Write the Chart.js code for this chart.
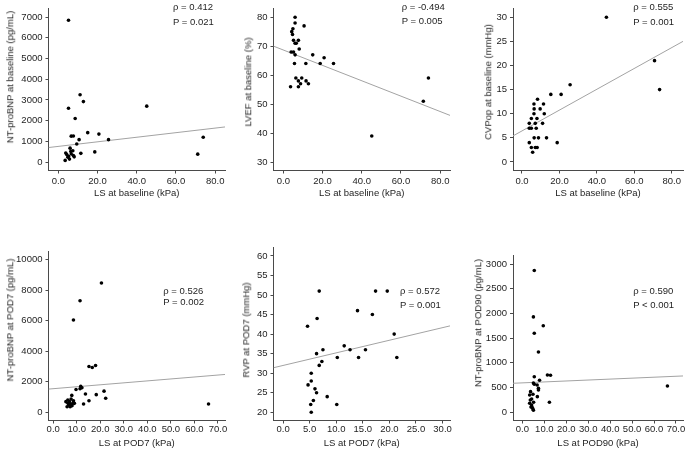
<!DOCTYPE html>
<html>
<head>
<meta charset="utf-8">
<script src="https://cdn.jsdelivr.net/npm/chart.js@4.4.1/dist/chart.umd.min.js"></script>
<style>
html,body{margin:0;padding:0;background:#fff;}
#wrap{position:relative;width:686px;height:453px;overflow:hidden;background:#fff;font-family:"Liberation Sans",Arial,sans-serif;color:#1e1e1e;}
#wrap canvas{position:absolute;}
.yt{position:absolute;white-space:nowrap;font-size:9.5px;line-height:1;transform:translate(-50%,-50%) rotate(-90deg);}
.ann{position:absolute;white-space:nowrap;font-size:9.5px;line-height:1;transform:translateY(-50%);}
</style>
</head>
<body>
<div id="wrap"></div>
<script>
// ---------- DATA ----------
// Panel 1: LS at baseline vs NT-proBNP at baseline
const p1LS = [5.2,11.1,12.8,5.2,45.1,8.6,15.0,6.6,7.7,20.7,10.6,25.6,9.4,73.9,71.1,18.6,11.5,3.8,4.3,5.2,6.0,6.4,6.6,7.4,7.7,8.1,5.7,3.5,4.9];
const p1NTproBNP = [6850,3250,2920,2600,2700,2100,1420,1250,1260,1350,1080,1080,870,1200,380,490,420,435,358,280,669,513,389,544,311,249,140,78,233];
const p1FitX = [-5, 85];
const p1FitY = [700, 1695];

// Panel 2: LS at baseline vs LVEF at baseline
const p2LS = [6.0,6.0,10.6,4.9,4.3,4.7,5.2,7.7,6.6,6.0,8.1,4.0,5.2,6.0,15.0,20.8,5.7,11.5,18.8,25.6,6.4,9.4,74.0,7.7,11.6,8.8,12.8,3.7,7.7,71.4,45.1];
const p2LVEF = [80,78,77,76,75,74,72,72,71,71,69,68,68,67,67,66,64,64,64,64,59,59,59,58,58,57,57,56,56,51,39];
const p2FitX = [-5, 85];
const p2FitY = [70.0, 46.1];

// Panel 3: LS at baseline vs CVPop at baseline
const p3LS = [45.1,70.8,73.5,25.7,15.4,20.9,8.3,6.4,11.5,6.5,9.7,6.4,11.9,3.9,7.1,11.0,5.0,8.0,3.9,5.0,7.6,6.5,8.8,13.1,18.8,3.9,5.0,7.1,8.1,5.7];
const p3CVP = [30,21,15,16,14,14,13,12,12,11,11,10,10,8,8,8,9,9,7,7,7,5,5,5,4,4,3,3,3,2];
const p3FitX = [-4.8, 86];
const p3FitY = [5.4, 25.0];

// Panel 4: LS at POD7 vs NT-proBNP at POD7
const p4LS = [20.5,11.4,8.6,15.2,16.6,18.0,11.7,11.4,12.2,9.7,21.6,13.7,18.3,7.9,22.3,15.2,12.9,66.0,6.2,6.9,7.6,8.3,9.0,6.6,7.2,5.4,5.9,8.0,6.3,8.6,7.4];
const p4NTproBNP = [8480,7320,6060,3010,2940,3070,1700,1550,1610,1500,1390,1200,1160,1110,920,760,550,550,810,700,870,590,590,480,370,700,370,440,590,760,520];
const p4FitX = [-2, 73];
const p4FitY = [1525, 2484];

// Panel 5: LS at POD7 vs RVP at POD7
const p5LS = [6.8,17.4,19.6,14.0,16.8,6.4,4.6,20.9,11.5,12.6,15.5,7.5,6.3,10.2,14.2,21.4,7.3,6.8,5.3,5.3,4.7,6.0,6.3,8.3,5.7,5.2,10.1,5.3];
const p5RVP = [51,51,51,46,45,44,42,40,37,36,36,36,35,34,34,34,33,32,30,28,27,26,25,24,23,22,22,20];
const p5FitX = [-1.8, 31.4];
const p5FitY = [31.4, 42.1];

// Panel 6: LS at POD90 vs NT-proBNP at POD90
const p6LS = [5.4,5.0,9.5,5.4,7.3,11.4,12.8,5.4,7.8,5.0,5.4,6.7,7.3,7.3,3.7,3.3,4.8,6.8,12.3,5.1,3.6,4.2,3.9,4.5,4.8,5.0,4.2,3.3,66.1];
const p6NTproBNP = [2870,1930,1750,1600,1220,755,748,720,647,593,566,553,485,452,418,350,364,317,202,202,250,148,108,94,67,40,270,182,533];
const p6FitX = [-4.3, 73.2];
const p6FitY = [587, 735];

// Tick labels
const xTicksBaseline = [0,20,40,60,80];
const xTicksPOD7 = [0,10,20,30,40,50,60,70];
const xTicksRVP = [0,5,10,15,20,25,30];
const xTicksPOD90 = [0,10,20,30,40,50,60,70];
const p1YTicks = [0,1000,2000,3000,4000,5000,6000,7000];
const p2YTicks = [30,40,50,60,70,80];
const p3YTicks = [0,5,10,15,20,25,30];
const p4YTicks = [0,2000,4000,6000,8000,10000];
const p5YTicks = [20,25,30,35,40,45,50,55,60];
const p6YTicks = [0,500,1000,1500,2000,2500,3000];

// Texts
const xTitles = ['LS at baseline (kPa)','LS at baseline (kPa)','LS at baseline (kPa)','LS at POD7 (kPa)','LS at POD7 (kPa)','LS at POD90 (kPa)'];
const yTitles = ['NT-proBNP at baseline (pg/mL)','LVEF at baseline (%)','CVPop at baseline (mmHg)','NT-proBNP at POD7 (pg/mL)','RVP at POD7 (mmHg)','NT-proBNP at POD90 (pg/mL)'];
const rhoTexts = ['ρ = 0.412','ρ = -0.494','ρ = 0.555','ρ = 0.526','ρ = 0.572','ρ = 0.590'];
const pTexts = ['P = 0.021','P = 0.005','P = 0.001','P = 0.002','P = 0.001','P < 0.001'];

// ---------- LAYOUT ----------
const panels = [
  {x:p1LS, y:p1NTproBNP, fx:p1FitX, fy:p1FitY, xt:xTicksBaseline, yt:p1YTicks,
   g:{l:48.5,r:225,t:3,b:170.5,xMin:-5,xMax:85,yMin:-410,yMax:7410,tp:2.5,ytc:[10.3,76.7],ann:[173,7,22.3]}},
  {x:p2LS, y:p2LVEF, fx:p2FitX, fy:p2FitY, xt:xTicksBaseline, yt:p2YTicks,
   g:{l:273.5,r:450,t:3,b:170.5,xMin:-5,xMax:85,yMin:27.07,yMax:82.93,tp:2.5,ytc:[248.3,81.7],ann:[401.7,6.7,21]}},
  {x:p3LS, y:p3CVP, fx:p3FitX, fy:p3FitY, xt:xTicksBaseline, yt:p3YTicks,
   g:{l:513,r:683,t:3.5,b:170.5,xMin:-4.8,xMax:86,yMin:-1.77,yMax:31.77,tp:2.5,ytc:[488,81.7],ann:[633.3,7,22.3]}},
  {x:p4LS, y:p4NTproBNP, fx:p4FitX, fy:p4FitY, xt:xTicksPOD7, yt:p4YTicks,
   g:{l:48.5,r:225,t:251,b:420.5,xMin:-2,xMax:73,yMin:-535,yMax:10535,tp:0,ytc:[10,320],ann:[163.3,290.7,302.3]}},
  {x:p5LS, y:p5RVP, fx:p5FitX, fy:p5FitY, xt:xTicksRVP, yt:p5YTicks,
   g:{l:273.5,r:450,t:247.5,b:420.5,xMin:-1.8,xMax:31.4,yMin:17.9,yMax:62.1,tp:0,ytc:[246,330],ann:[400,291,305]}},
  {x:p6LS, y:p6NTproBNP, fx:p6FitX, fy:p6FitY, xt:xTicksPOD90, yt:p6YTicks,
   g:{l:513,r:683,t:255.8,b:420.5,xMin:-4.3,xMax:73.2,yMin:-166,yMax:3166,tp:0,ytc:[478.3,323.3],ann:[633.3,290.7,305]}}
];

Chart.defaults.font.family = '"Liberation Sans", Arial, sans-serif';
Chart.defaults.font.size = 9.5;
Chart.defaults.color = '#1e1e1e';

const AXIS = '#4a4a4a';
const XH = 30;
const wrap = document.getElementById('wrap');

panels.forEach((pn, i) => {
  const g = pn.g;
  const cL = Math.floor(g.l) - 40;
  const cT = Math.max(0, Math.floor(g.t) - 8);
  const cR = Math.ceil(g.r) + 14;
  const H = Math.ceil(g.b + XH) - cT;
  const W = cR - cL;
  const pb = H - XH - (g.b - cT);
  const cv = document.createElement('canvas');
  cv.width = W; cv.height = H;
  cv.style.left = cL + 'px'; cv.style.top = cT + 'px';
  cv.style.width = W + 'px'; cv.style.height = H + 'px';
  wrap.appendChild(cv);

  new Chart(cv, {
    type: 'scatter',
    data: {
      datasets: [
        {
          type: 'line',
          data: pn.fx.map((v, k) => ({x: v, y: pn.fy[k]})),
          showLine: true, borderColor: '#a3a3a3', borderWidth: 1,
          pointRadius: 0, fill: false, tension: 0, order: 2
        },
        {
          data: pn.x.map((v, k) => ({x: v, y: pn.y[k]})),
          pointRadius: 1.8, pointBackgroundColor: '#000', backgroundColor: '#000',
          pointBorderWidth: 0, borderWidth: 0, order: 1
        }
      ]
    },
    options: {
      responsive: false, animation: false, events: [],
      plugins: {legend: {display: false}, tooltip: {enabled: false}},
      layout: {autoPadding: false, padding: {left: 0, top: g.t - cT, right: cR - g.r, bottom: pb}},
      scales: {
        x: {
          type: 'linear', position: 'bottom', min: g.xMin, max: g.xMax,
          afterFit: s => { s.height = XH; },
          afterBuildTicks: s => { s.ticks = pn.xt.map(v => ({value: v})); },
          ticks: {autoSkip: false, maxRotation: 0, minRotation: 0, padding: g.tp,
                  callback: v => Number(v).toFixed(1)},
          grid: {display: true, drawOnChartArea: false, drawTicks: true, tickLength: 3, color: AXIS, lineWidth: 1},
          border: {display: true, color: AXIS, width: 1},
          title: {display: true, text: xTitles[i], padding: {top: 0, bottom: 1.5}}
        },
        y: {
          type: 'linear', position: 'left', min: g.yMin, max: g.yMax,
          afterFit: s => { s.width = g.l - cL; },
          afterBuildTicks: s => { s.ticks = pn.yt.map(v => ({value: v})); },
          ticks: {autoSkip: false, padding: 3, callback: v => String(v)},
          grid: {display: true, drawOnChartArea: false, drawTicks: true, tickLength: 3, color: AXIS, lineWidth: 1},
          border: {display: true, color: AXIS, width: 1},
          title: {display: false}
        }
      }
    }
  });

  const yt = document.createElement('div');
  yt.className = 'yt';
  yt.textContent = yTitles[i];
  yt.style.left = g.ytc[0] + 'px';
  yt.style.top = g.ytc[1] + 'px';
  wrap.appendChild(yt);

  const a1 = document.createElement('div');
  a1.className = 'ann'; a1.textContent = rhoTexts[i];
  a1.style.left = g.ann[0] + 'px'; a1.style.top = g.ann[1] + 'px';
  wrap.appendChild(a1);
  const a2 = document.createElement('div');
  a2.className = 'ann'; a2.textContent = pTexts[i];
  a2.style.left = g.ann[0] + 'px'; a2.style.top = g.ann[2] + 'px';
  wrap.appendChild(a2);
});
</script>
</body>
</html>
